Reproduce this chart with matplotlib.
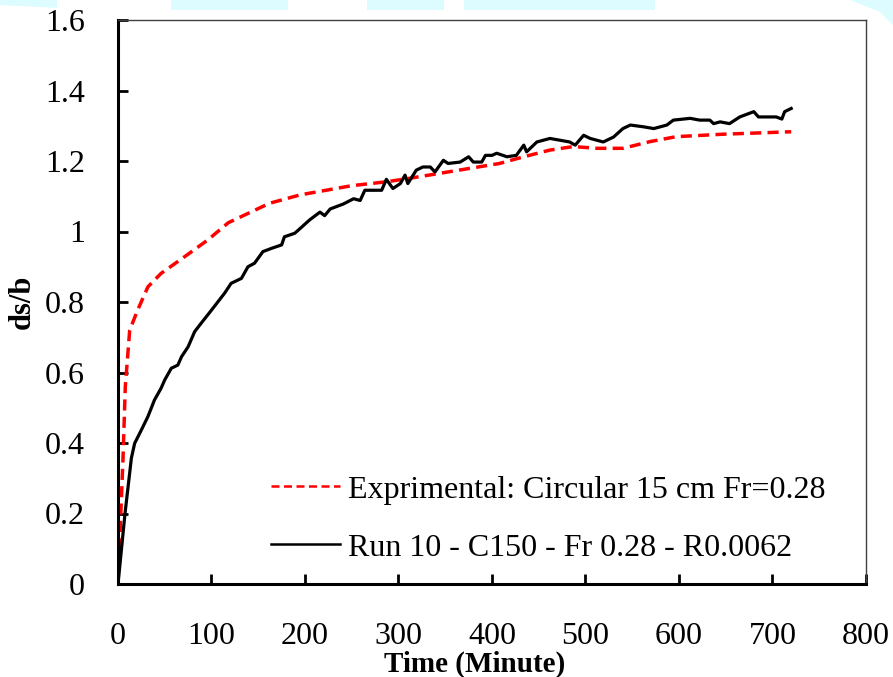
import matplotlib
matplotlib.use("Agg")
import matplotlib.pyplot as plt
from matplotlib.patches import Rectangle, Polygon

# Run 10 - C150 - Fr 0.28 - R0.0062 (numerical, black)
run_t = [0, 7.5, 14.3, 17.8, 25, 32, 39, 46, 50, 57, 64, 68, 75, 82, 89, 100,
         107, 114, 121, 132, 139, 146, 155, 164, 175, 178, 189, 195, 205, 216,
         221, 227, 241, 252, 259, 264, 272, 282, 287, 294, 302, 307, 310, 319,
         326, 334, 339, 348, 353, 366, 375, 380, 389, 393, 400, 405, 416, 426,
         434, 437, 448, 462, 483, 489, 498, 505, 519, 530, 540, 548, 562, 573,
         587, 594, 612, 622, 633, 637, 644, 654, 665, 680, 685, 694, 704, 710,
         713, 720]
run_ds = [0, 0.2, 0.357, 0.399, 0.437, 0.475, 0.522, 0.555, 0.579, 0.612, 0.621,
          0.645, 0.673, 0.716, 0.74, 0.777, 0.801, 0.825, 0.853, 0.867, 0.90,
          0.91, 0.943, 0.952, 0.962, 0.985, 0.995, 1.009, 1.033, 1.055, 1.045,
          1.064, 1.078, 1.093, 1.088, 1.117, 1.117, 1.117, 1.148, 1.122, 1.136,
          1.160, 1.136, 1.174, 1.183, 1.183, 1.169, 1.202, 1.193, 1.197, 1.212,
          1.197, 1.197, 1.216, 1.216, 1.222, 1.212, 1.216, 1.245, 1.226, 1.254,
          1.264, 1.254, 1.245, 1.273, 1.264, 1.254, 1.268, 1.292, 1.302, 1.297,
          1.292, 1.302, 1.316, 1.321, 1.316, 1.316, 1.306, 1.311, 1.306, 1.325,
          1.340, 1.325, 1.325, 1.325, 1.319, 1.340, 1.349]

# Experimental: Circular 15 cm Fr=0.28 (red dashed)
exp_t = [0, 3, 5.3, 7.8, 12.5, 21, 32, 46, 71, 96, 118, 162, 195, 250, 287,
         312, 408, 434, 462, 487, 512, 540, 569, 597, 647, 720]
exp_ds = [0, 0.2, 0.352, 0.56, 0.72, 0.777, 0.843, 0.881, 0.928, 0.976, 1.025,
          1.08, 1.104, 1.13, 1.141, 1.151, 1.193, 1.212, 1.231, 1.241, 1.236,
          1.236, 1.255, 1.269, 1.276, 1.283]

x_ticks = [0, 100, 200, 300, 400, 500, 600, 700, 800]
y_ticks = [0, 0.2, 0.4, 0.6, 0.8, 1.0, 1.2, 1.4, 1.6]
y_labels = ["0", "0.2", "0.4", "0.6", "0.8", "1", "1.2", "1.4", "1.6"]

plt.rcParams["font.family"] = ["Liberation Serif", "DejaVu Serif"]

fig = plt.figure(figsize=(8.93, 6.77), dpi=100)
ax = fig.add_axes([118 / 893, 93 / 677, 748 / 893, 564 / 677])

# faint cyan smear along the top edge of the original image
cyan = "#dcfcff"
for x0, x1 in [(171, 288), (367, 444), (464, 655)]:
    fig.patches.append(Rectangle((x0 / 893, 667 / 677), (x1 - x0) / 893, 10 / 677,
                                 transform=fig.transFigure, color=cyan, lw=0))
fig.patches.append(Polygon([(0, 1), (57 / 893, 1), (57 / 893, 669 / 677), (0, 672 / 677)],
                           closed=True, transform=fig.transFigure, color=cyan, lw=0))
fig.patches.append(Polygon([(850 / 893, 1), (1, 1), (1, 652 / 677), (880 / 893, 665 / 677)],
                           closed=True, transform=fig.transFigure, color=cyan, lw=0))

ax.plot(exp_t, exp_ds, color="red", lw=2.5, ls=(0, (3.2, 1.8)),
        label="Exprimental: Circular 15 cm Fr=0.28")
ax.plot(run_t, run_ds, color="black", lw=2.3,
        label="Run 10 - C150 - Fr 0.28 - R0.0062")

ax.set_xlim(0, 800)
ax.set_ylim(0, 1.6)
ax.set_xticks(x_ticks)
ax.set_yticks(y_ticks)
ax.set_yticklabels(y_labels)
ax.tick_params(direction="in", length=7, width=2, labelsize=23, color="black")
ax.tick_params(axis="x", pad=27)
ax.tick_params(axis="y", pad=24)

for side in ["left", "bottom"]:
    ax.spines[side].set_linewidth(2.2)
for side in ["top", "right"]:
    ax.spines[side].set_linewidth(1.0)
    ax.spines[side].set_color("#404040")

ax.set_xlabel("Time (Minute)", fontsize=21, fontweight="bold", va="center")
ax.xaxis.set_label_coords(0.477, -0.143)
ax.set_ylabel("ds/b", fontsize=22, fontweight="bold", va="center", ha="center")
ax.yaxis.set_label_coords(-0.128, 0.5)

leg = ax.legend(loc="upper left", bbox_to_anchor=(0.2045, 0.193), frameon=False,
                fontsize=23, handlelength=2.15, handletextpad=0.25, labelspacing=0.9,
                borderpad=0, borderaxespad=0)
for line in leg.get_lines():
    line.set_linewidth(1.8)

fig.savefig("out.png", dpi=100)
